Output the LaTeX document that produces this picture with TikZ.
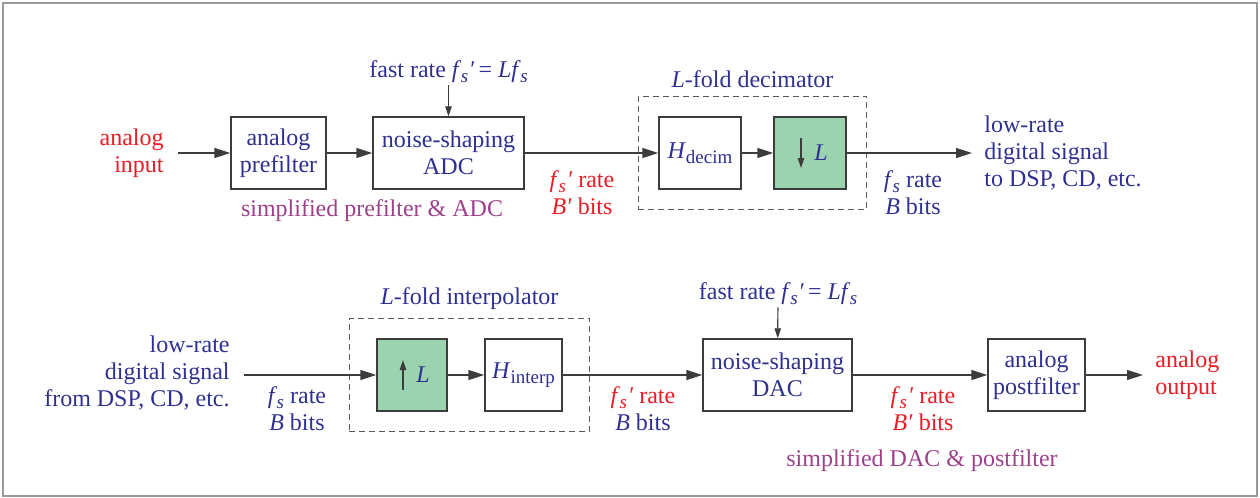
\documentclass[tikz,border=0pt]{standalone}
\usepackage{fontspec}
\setmainfont{Liberation Serif}
\usetikzlibrary{positioning, arrows.meta, fit}
\definecolor{SigBlue}{RGB}{46,49,146}
\definecolor{SigRed}{RGB}{237,28,36}
\definecolor{NotePurple}{RGB}{158,64,138}
\definecolor{StageGreen}{RGB}{155,211,174}
\definecolor{EdgeGray}{RGB}{60,60,60}
\newcommand{\lowsub}[1]{\raisebox{-0.45ex}{\fontsize{9.5}{9.5}\selectfont #1}}
\newcommand{\fsr}{\textit{f}\kern-0.3pt\lowsub{\textit{s}}}
\newcommand{\fsp}{\fsr\kern0.4pt\textit{′}}
\tikzset{
  blk/.style={draw=EdgeGray, line width=0.7pt, fill=white, text=SigBlue, align=center, inner sep=0pt},
  ratebox/.style={blk, fill=StageGreen},
  grpbox/.style={draw=EdgeGray!85, line width=0.6pt, dash pattern=on 3pt off 2pt},
  sig/.style={-{Triangle[length=8pt,width=5pt]}, line width=0.7pt, EdgeGray},
  clk/.style={-{Triangle[length=5pt,width=3.2pt]}, line width=0.6pt, EdgeGray},
  bluetxt/.style={text=SigBlue, align=center, inner sep=1pt},
  redtxt/.style={text=SigRed, align=center, inner sep=1pt},
  notetxt/.style={text=NotePurple, inner sep=1pt},
}
\begin{document}
\begin{tikzpicture}[x=0.5pt, y=-0.5pt, font=\fontsize{12}{13.5}\selectfont]
  \useasboundingbox (0,0) rectangle (1260,498);
  \draw[gray!80, line width=0.8pt] (3,3) rectangle (1257,496);

  % ---- oversampling ADC with decimator ----
  \node[redtxt, align=right, anchor=east] (ain) at (166,153) {analog\\input};
  \node[blk, minimum width=47.5pt, minimum height=36pt] (pre) at (278.5,153) {analog\\prefilter};
  \node[blk, minimum width=75.5pt, minimum height=36pt] (adc) at (448.5,153) {noise-shaping\\ADC};
  \node[bluetxt] (fast1) at (448.5,72) {fast rate \fsp\,= \textit{Lf}\kern-0.3pt\lowsub{\textit{s}}};
  \node[notetxt] (note1) at (372,211) {simplified prefilter \& ADC};
  \node[blk, minimum width=41pt, minimum height=36pt] (hdec) at (700,153) {\textit{H}\lowsub{decim}};
  \node[ratebox, minimum width=36pt, minimum height=36pt] (down) at (810,153) {\hspace*{11pt}\textit{L}};
  \node[grpbox, fit=(hdec)(down), inner xsep=10pt, inner ysep=10pt] (decim) {};
  \node[bluetxt, above=3pt of decim] (decimlbl) {\textit{L}-fold decimator};
  \node[redtxt] (rate1) at (582,193) {\fsp\ rate\\\textit{B′} bits};
  \node[bluetxt] (rate2) at (913,193) {\fsr\ rate\\\textit{B} bits};
  \node[bluetxt, align=left, anchor=west] (dout) at (982,153) {low-rate\\digital signal\\to DSP, CD, etc.};

  \draw[sig, shorten <=6pt] (ain) -- (pre);
  \draw[sig] (pre) -- (adc);
  \draw[clk] (fast1) -- (adc);
  \draw[sig] (adc) -- (hdec);
  \draw[sig] (hdec) -- (down);
  \draw[sig, shorten >=5pt] (down) -- (dout.west |- down);
  \draw[clk] ([xshift=-4.5pt, yshift=7.5pt]down.center) -- ([xshift=-4.5pt, yshift=-7.5pt]down.center);

  % ---- interpolator with oversampling DAC ----
  \node[bluetxt, align=right, anchor=east] (din) at (232,373) {low-rate\\digital signal\\from DSP, CD, etc.};
  \node[ratebox, minimum width=35pt, minimum height=36pt] (up) at (412,375) {\hspace*{11pt}\textit{L}};
  \node[blk, minimum width=38.5pt, minimum height=36pt] (hint) at (523.5,375) {\textit{H}\lowsub{interp}};
  \node[grpbox, fit=(up)(hint), inner xsep=13.5pt, inner ysep=10pt] (interp) {};
  \node[bluetxt, above=3pt of interp] (interplbl) {\textit{L}-fold interpolator};
  \node[blk, minimum width=74.5pt, minimum height=36pt] (dac) at (777.5,375) {noise-shaping\\DAC};
  \node[bluetxt] (fast2) at (778,294) {fast rate \fsp\,= \textit{Lf}\kern-0.3pt\lowsub{\textit{s}}};
  \node[blk, minimum width=48.5pt, minimum height=36pt] (post) at (1036.5,375) {analog\\postfilter};
  \node[redtxt, align=left, anchor=west] (aout) at (1153,375) {analog\\output};
  \node[bluetxt] (rate3) at (297,409) {\fsr\ rate\\\textit{B} bits};
  \node[bluetxt] (rate4) at (643,409) {{\color{SigRed}\fsp\ rate}\\\textit{B} bits};
  \node[redtxt] (rate5) at (923,409) {\fsp\ rate\\\textit{B′} bits};
  \node[notetxt] (note2) at (922,461) {simplified DAC \& postfilter};

  \draw[sig, shorten <=6pt] (din.east |- up) -- (up);
  \draw[sig] (up) -- (hint);
  \draw[sig] (hint) -- (dac);
  \draw[clk] (fast2) -- (dac);
  \draw[sig] (dac) -- (post);
  \draw[sig, shorten >=5pt] (post) -- (aout);
  \draw[clk] ([xshift=-4.5pt, yshift=-7.5pt]up.center) -- ([xshift=-4.5pt, yshift=7.5pt]up.center);
\end{tikzpicture}
\end{document}
